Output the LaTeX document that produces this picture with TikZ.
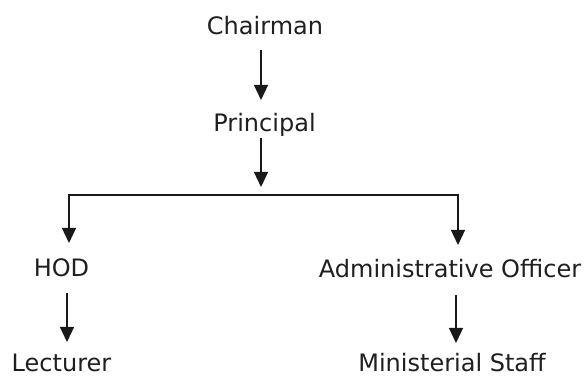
\documentclass[tikz,border=0pt]{standalone}
\usepackage{fontspec}
\setmainfont{DejaVu Sans}
\usetikzlibrary{arrows.meta,calc}
\begin{document}
\begin{tikzpicture}[x=1pt,y=1pt,
  lbl/.style={font=\fontsize{24}{28}\selectfont, text=black!88, inner sep=0pt, outer sep=0pt,
    text height=18pt, text depth=5pt, anchor=base},
  arr/.style={line width=1.3pt, draw=black!90, -{Triangle[width=14pt,length=15pt]}},
  bar/.style={line width=1.3pt, draw=black!90}]
\useasboundingbox (0,0) rectangle (586,377);
\node[lbl] (chair) at (265,342) {Chairman};
\node[lbl] (prin) at (264.5,245) {Principal};
\node[lbl] (hod) at (61.5,100) {HOD};
\node[lbl] (ao) at (450,99) {Administrative Officer};
\node[lbl, text depth=0pt] (lect) at (61.5,5) {Lecturer};
\node[lbl, text depth=0pt] (ms) at (452,5) {Ministerial Staff};
\coordinate (bmid) at (261,182);
\coordinate (bl) at (69,182);
\coordinate (br) at (458,182);
\draw[arr] ($(chair.south)+(-4,-10)$) -- ($(prin.north)+(-3.5,14)$);
\draw[arr] ($(prin.south)+(-3.5,-1)$) -- ($(bmid)+(0,8)$);
\draw[bar] ([xshift=-0.65pt]bl) -- ([xshift=0.65pt]br);
\draw[arr] (bl) -- ($(hod.north)+(7.5,16)$);
\draw[arr] (br) -- ($(ao.north)+(8,15)$);
\draw[arr] ($(hod.south)+(5.5,-11)$) -- ($(lect.north)+(5.5,12)$);
\draw[arr] ($(ao.south)+(6,-12)$) -- ($(ms.north)+(4,11)$);
\end{tikzpicture}
\end{document}
